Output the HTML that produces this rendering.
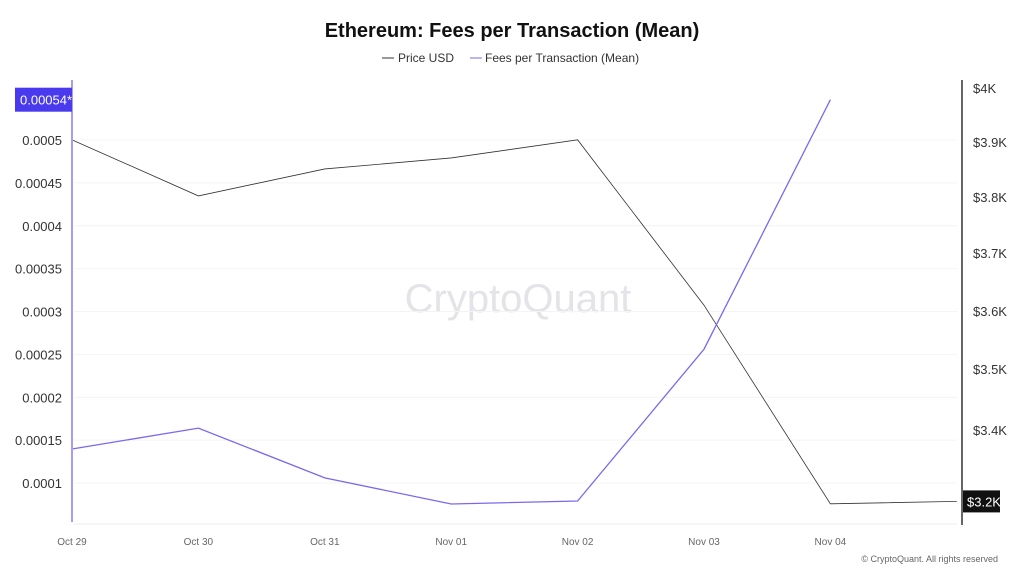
<!DOCTYPE html>
<html><head><meta charset="utf-8"><style>
body{margin:0;background:#fff;font-family:"Liberation Sans",sans-serif}
svg text{font-family:"Liberation Sans",sans-serif}
</style></head><body>
<svg id="c" width="1024" height="576">
<text x="512" y="37" text-anchor="middle" font-size="20" font-weight="bold" fill="#111">Ethereum: Fees per Transaction (Mean)</text>
<g>
<g><line x1="382" y1="58" x2="394" y2="58" stroke="#333"/><text x="398" y="62" font-size="12" fill="#333">Price USD</text></g>
<g><line x1="470" y1="58" x2="482" y2="58" stroke="#7b68ee"/><text x="485" y="62" font-size="12" fill="#333">Fees per Transaction (Mean)</text></g>
</g>
<text x="518" y="312" text-anchor="middle" font-size="40" fill="#e3e3e8">CryptoQuant</text>
<g id="grid"></g><g id="marks"></g><g id="axes"></g>
<text x="998" y="562" text-anchor="end" font-size="9" fill="#666">© CryptoQuant. All rights reserved</text>
</svg>
<script>
const categories=["Oct 29","Oct 30","Oct 31","Nov 01","Nov 02","Nov 03","Nov 04",""];
const priceValues=[3904,3802,3851,3871,3904,3610,3277,3281];
const feeValues=[0.0001396,0.000164,0.000106,0.0000755,0.000079,0.000256,0.000547];
const leftTicks=[0.0001,0.00015,0.0002,0.00025,0.0003,0.00035,0.0004,0.00045,0.0005];
const leftTickLabels=["0.0001","0.00015","0.0002","0.00025","0.0003","0.00035","0.0004","0.00045","0.0005"];
const rightTicks=[3400,3500,3600,3700,3800,3900,4000];
const rightTickLabels=["$3.4K","$3.5K","$3.6K","$3.7K","$3.8K","$3.9K","$4K"];
const NS="http://www.w3.org/2000/svg";
const x=i=>72+i*126.4;
const yL=v=>483-(v-0.0001)/0.00005*42.875;
const pk=[[3200,550],[3300,490],[3400,430],[3500,369],[3600,311],[3700,253],[3800,197],[3900,142],[4000,88]];
function yR(p){for(let i=0;i<pk.length-1;i++){const a=pk[i],b=pk[i+1];if(p<=b[0]||i==pk.length-2){return a[1]+(p-a[0])/(b[0]-a[0])*(b[1]-a[1]);}}}
function mk(t,a,parent){const e=document.createElementNS(NS,t);for(const k in a)e.setAttribute(k,a[k]);document.getElementById(parent).appendChild(e);return e;}
leftTicks.forEach((v,i)=>{
 const g=mk('line',{x1:74,x2:957,y1:yL(v),y2:yL(v),stroke:'#f4f4f4'},'grid');
 
 
 const t=mk('text',{x:62,y:yL(v)+5,'text-anchor':'end','font-size':13,fill:'#333'},'axes');t.textContent=leftTickLabels[i];
 
 
});
rightTicks.forEach((v,i)=>{
 const t=mk('text',{x:973,y:yR(v)+5,'font-size':13,fill:'#333'},'axes');t.textContent=rightTickLabels[i];
 
 
});
categories.forEach((c,i)=>{if(!c)return;
 const t=mk('text',{x:x(i),y:545,'text-anchor':'middle','font-size':10,fill:'#666'},'axes');t.textContent=c;
 
 
});
let a=mk('line',{x1:72,x2:72,y1:80,y2:522,stroke:'#a89cf0','stroke-width':2},'axes');


a=mk('line',{x1:962,x2:962,y1:80,y2:525,stroke:'#333','stroke-width':1.5},'axes');


a=mk('line',{x1:74,x2:957,y1:524,y2:524,stroke:'#eee'},'axes');


let pl=mk('polyline',{points:priceValues.map((v,i)=>x(i)+','+yR(v)).join(' '),fill:'none',stroke:'#333','stroke-width':0.8},'marks');


pl=mk('polyline',{points:feeValues.map((v,i)=>x(i)+','+yL(v)).join(' '),fill:'none',stroke:'#7b68ee','stroke-width':1.3},'marks');


const lf=feeValues[feeValues.length-1];
let r=mk('rect',{x:15,y:yL(lf)-12,width:57,height:24,fill:'#4a3aed'},'axes');


let t=mk('text',{x:20,y:yL(lf)+5,'font-size':13,fill:'#fff'},'axes');t.textContent='0.00054*';


const lp=priceValues[priceValues.length-1];
r=mk('rect',{x:963,y:yR(lp)-11,width:37,height:22,fill:'#111'},'axes');


t=mk('text',{x:967,y:yR(lp)+5,'font-size':13,fill:'#fff'},'axes');t.textContent='$3.2K';


</script>
</body></html>
